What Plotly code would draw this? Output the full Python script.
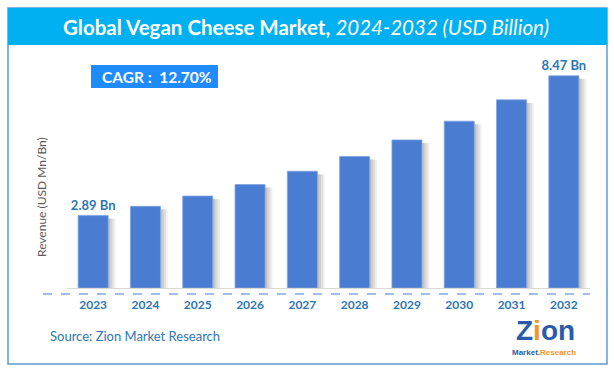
import plotly.graph_objects as go

years = ["2023", "2024", "2025", "2026", "2027", "2028", "2029", "2030", "2031", "2032"]
revenue = [2.89, 3.26, 3.67, 4.13, 4.66, 5.25, 5.91, 6.66, 7.51, 8.47]
bar_labels = ["2.89 Bn", "", "", "", "", "", "", "", "", "8.47 Bn"]

title_bold = "Global Vegan Cheese Market,"
title_italic = "2024-2032 (USD Billion)"
cagr_text = "CAGR :  12.70%"
y_title = "Revenue (USD Mn/Bn)"
source_text = "Source: Zion Market Research"

W, H = 614, 373
FONT = "Lato, Open Sans, sans-serif"
BAR = "#4A7CD1"
LBL = "#2E75B6"


def X(px):
    return px / W


def Y(py):
    return 1 - py / H


fig = go.Figure()

# soft shadow on right of bars
shadow_alphas = [0.32, 0.24, 0.16, 0.08]
sw = 0.035
for i, a in enumerate(shadow_alphas):
    fig.add_trace(go.Bar(
        x=years, y=[v - 0.12 for v in revenue],
        width=sw, offset=0.287 + i * sw,
        marker=dict(color=f"rgba(60,60,60,{a})", line=dict(width=0)),
        hoverinfo="skip", showlegend=False,
    ))

fig.add_trace(go.Bar(
    x=years, y=revenue, width=0.574, offset=-0.287,
    marker=dict(color=BAR, line=dict(width=0.8, color="#7FA3E0")),
    text=bar_labels, textposition="outside", cliponaxis=False, constraintext="none",
    textfont=dict(family=FONT, size=13, color=LBL, weight="bold"),
    showlegend=False,
))

shapes = [
    dict(type="rect", xref="paper", yref="paper", x0=X(8), x1=X(607), y0=Y(364), y1=Y(8),
         line=dict(color="#5B9BD5", width=1.5), fillcolor="rgba(0,0,0,0)", layer="below"),
    dict(type="rect", xref="paper", yref="paper", x0=X(8), x1=X(607), y0=Y(45), y1=Y(8),
         line=dict(width=0), fillcolor="#00B0F0", layer="below"),
    dict(type="rect", xref="paper", yref="paper", x0=X(91), x1=X(218), y0=Y(88), y1=Y(65),
         line=dict(width=0), fillcolor="#1E8CFF", layer="below"),
    dict(type="line", xref="paper", yref="paper", x0=X(43), x1=X(590), y0=Y(294), y1=Y(294),
         line=dict(color="#4A7CD1", width=1.2, dash="dash")),
]

annotations = [
    dict(text=f"<b>{title_bold}</b> <i>{title_italic}</i>", x=X(306), y=Y(27), xref="paper", yref="paper",
         showarrow=False, font=dict(family=FONT, size=20.5, color="white"), xanchor="center", yanchor="middle"),
    dict(text=f"<b>{cagr_text}</b>", x=X(157), y=Y(76.5), xref="paper", yref="paper",
         showarrow=False, font=dict(family=FONT, size=15.5, color="white"), xanchor="center", yanchor="middle"),
    dict(text=y_title, x=X(41), y=Y(197), xref="paper", yref="paper", textangle=-90,
         showarrow=False, font=dict(family=FONT, size=12, color="#595959"), xanchor="center", yanchor="middle"),
    dict(text=source_text, x=X(48), y=Y(336), xref="paper", yref="paper",
         showarrow=False, font=dict(family=FONT, size=13, color=LBL), xanchor="left", yanchor="middle"),
    dict(text="<b>Z<span style='color:#F7941D'>i</span>on</b>", x=X(545), y=Y(330), xref="paper", yref="paper",
         showarrow=False, font=dict(family="Liberation Sans, Arial, sans-serif", size=28, color="#2B5BA8"),
         xanchor="center", yanchor="middle", borderpad=0),
    dict(text="<b>Market.<span style='color:#F7941D'>Research</span></b>", x=X(544), y=Y(352), xref="paper", yref="paper",
         showarrow=False, font=dict(family="Liberation Sans, Arial, sans-serif", size=8, color="#2B5BA8"),
         xanchor="center", yanchor="middle", borderpad=0),
]

fig.update_layout(
    width=W, height=H,
    margin=dict(l=0, r=0, t=0, b=0),
    paper_bgcolor="white", plot_bgcolor="white",
    barmode="overlay",
    shapes=shapes, annotations=annotations,
    xaxis=dict(domain=[X(67), X(590)], range=[-0.5, 9.5], type="category",
               showgrid=False, showline=True, linecolor="#D9D9D9", linewidth=1,
               ticks="outside", ticklen=6, tickcolor="rgba(0,0,0,0)",
               tickfont=dict(family=FONT, size=12, color=LBL, weight="bold")),
    yaxis=dict(domain=[Y(288), Y(50)], range=[0, 9.5], visible=False),
    font=dict(family=FONT),
)

fig.write_html("out.html", config={"displayModeBar": False},
               post_script="document.body.style.margin='0';document.body.style.padding='0';")
